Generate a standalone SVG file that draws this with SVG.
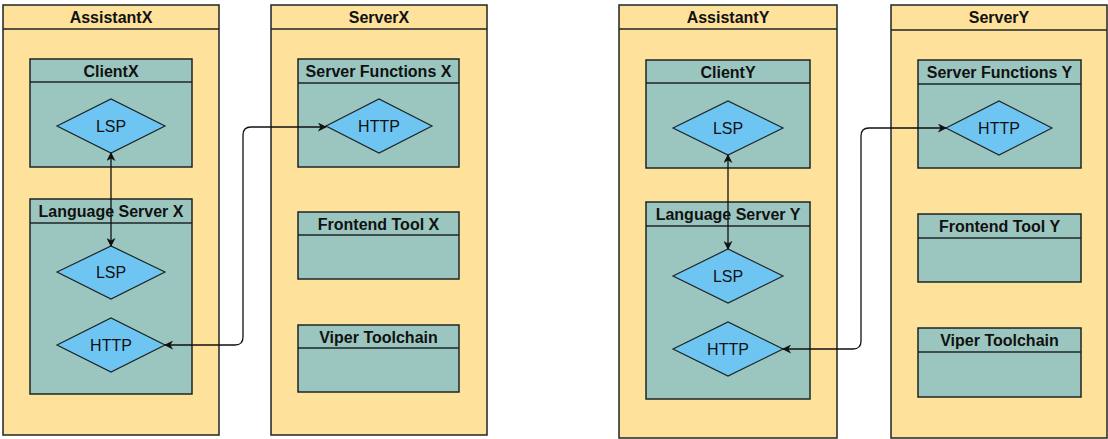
<svg xmlns="http://www.w3.org/2000/svg" width="1108" height="439" viewBox="0 0 1108 439">
<defs>
<style>
.pool{fill:#FEE29B;stroke:#1e2424;stroke-width:1.5}
.box{fill:#9BC6BF;stroke:#1e2424;stroke-width:1.5}
.dia{fill:#6EC5F1;stroke:#1e2424;stroke-width:1.2}
.hd{font-family:"Liberation Sans",Arial,sans-serif;font-weight:bold;font-size:16px;fill:#111;text-anchor:middle}
.lb{font-family:"Liberation Sans",Arial,sans-serif;font-size:16px;fill:#111;text-anchor:middle}
.con{fill:none;stroke:#111;stroke-width:1.3}
</style>
<marker id="ah" viewBox="0 0 10 10" refX="9" refY="5" markerWidth="9" markerHeight="9" orient="auto-start-reverse" markerUnits="userSpaceOnUse">
<path d="M0,0 L10,5 L0,10 L3,5 Z" fill="#111"/>
</marker>
</defs>
<rect width="1108" height="439" fill="#fff"/>

<g id="AssistantX">
<rect class="pool" x="3" y="5" width="216" height="430"/>
<line class="pool" x1="3" y1="29" x2="219" y2="29"/>
<text class="hd" x="111" y="23">AssistantX</text>
</g>
<g id="ClientX">
<rect class="box" x="30" y="59" width="162" height="108"/>
<line class="box" x1="30" y1="82" x2="192" y2="82"/>
<text class="hd" x="111" y="77">ClientX</text>
</g>
<g id="ClientX-LSP">
<polygon class="dia" points="57,126 111,99 165,126 111,153"/>
<text class="lb" x="111" y="131.5">LSP</text>
</g>
<g id="LanguageServerX">
<rect class="box" x="30" y="199" width="162" height="195"/>
<line class="box" x1="30" y1="223" x2="192" y2="223"/>
<text class="hd" x="111" y="217">Language Server X</text>
</g>
<g id="LanguageServerX-LSP">
<polygon class="dia" points="57,272 111,246 165,272 111,299"/>
<text class="lb" x="111" y="278">LSP</text>
</g>
<g id="LanguageServerX-HTTP">
<polygon class="dia" points="57,345 111,318 165,345 111,372"/>
<text class="lb" x="111" y="351">HTTP</text>
</g>

<g id="ServerX">
<rect class="pool" x="271" y="5" width="216" height="430"/>
<line class="pool" x1="271" y1="29" x2="487" y2="29"/>
<text class="hd" x="379" y="23">ServerX</text>
</g>
<g id="ServerFunctionsX">
<rect class="box" x="298" y="59" width="161" height="108"/>
<line class="box" x1="298" y1="83" x2="459" y2="83"/>
<text class="hd" x="378.5" y="77">Server Functions X</text>
</g>
<g id="ServerFunctionsX-HTTP">
<polygon class="dia" points="326,126 379,99 432,126 379,153"/>
<text class="lb" x="379" y="132">HTTP</text>
</g>
<g id="FrontendToolX">
<rect class="box" x="298" y="212" width="161" height="67"/>
<line class="box" x1="298" y1="235" x2="459" y2="235"/>
<text class="hd" x="378.5" y="230">Frontend Tool X</text>
</g>
<g id="ViperToolchainX">
<rect class="box" x="298" y="325" width="161" height="67"/>
<line class="box" x1="298" y1="348" x2="459" y2="348"/>
<text class="hd" x="378.5" y="343">Viper Toolchain</text>
</g>

<g id="AssistantY">
<rect class="pool" x="619" y="5" width="218" height="433"/>
<line class="pool" x1="619" y1="29" x2="837" y2="29"/>
<text class="hd" x="728" y="23">AssistantY</text>
</g>
<g id="ClientY">
<rect class="box" x="646" y="60" width="164" height="108"/>
<line class="box" x1="646" y1="83" x2="810" y2="83"/>
<text class="hd" x="728" y="78">ClientY</text>
</g>
<g id="ClientY-LSP">
<polygon class="dia" points="673,128 728,101 783,128 728,155"/>
<text class="lb" x="728" y="134">LSP</text>
</g>
<g id="LanguageServerY">
<rect class="box" x="646" y="202" width="164" height="197"/>
<line class="box" x1="646" y1="226" x2="810" y2="226"/>
<text class="hd" x="728" y="220">Language Server Y</text>
</g>
<g id="LanguageServerY-LSP">
<polygon class="dia" points="673,276 728,249 783,276 728,303"/>
<text class="lb" x="728" y="282">LSP</text>
</g>
<g id="LanguageServerY-HTTP">
<polygon class="dia" points="673,349 728,322 783,349 728,376"/>
<text class="lb" x="728" y="355">HTTP</text>
</g>

<g id="ServerY">
<rect class="pool" x="891" y="5" width="216" height="433"/>
<line class="pool" x1="891" y1="30" x2="1107" y2="30"/>
<text class="hd" x="999" y="23">ServerY</text>
</g>
<g id="ServerFunctionsY">
<rect class="box" x="918" y="60" width="163" height="108"/>
<line class="box" x1="918" y1="84" x2="1081" y2="84"/>
<text class="hd" x="999.5" y="78">Server Functions Y</text>
</g>
<g id="ServerFunctionsY-HTTP">
<polygon class="dia" points="946,128 999,101 1052,128 999,155"/>
<text class="lb" x="999" y="134">HTTP</text>
</g>
<g id="FrontendToolY">
<rect class="box" x="918" y="214" width="163" height="68"/>
<line class="box" x1="918" y1="238" x2="1081" y2="238"/>
<text class="hd" x="999.5" y="232">Frontend Tool Y</text>
</g>
<g id="ViperToolchainY">
<rect class="box" x="918" y="328" width="163" height="69"/>
<line class="box" x1="918" y1="352" x2="1081" y2="352"/>
<text class="hd" x="999.5" y="346">Viper Toolchain</text>
</g>

<g id="connectors">
<path class="con" d="M111,153 L111,246" marker-start="url(#ah)" marker-end="url(#ah)"/>
<path class="con" d="M165,345 L235,345 Q243,345 243,337 L243,135 Q243,127 251,127 L326,127" marker-start="url(#ah)" marker-end="url(#ah)"/>
<path class="con" d="M728,155 L728,249" marker-start="url(#ah)" marker-end="url(#ah)"/>
<path class="con" d="M783,349 L853,349 Q861,349 861,341 L861,136 Q861,128 869,128 L946,128" marker-start="url(#ah)" marker-end="url(#ah)"/>
</g>
</svg>
